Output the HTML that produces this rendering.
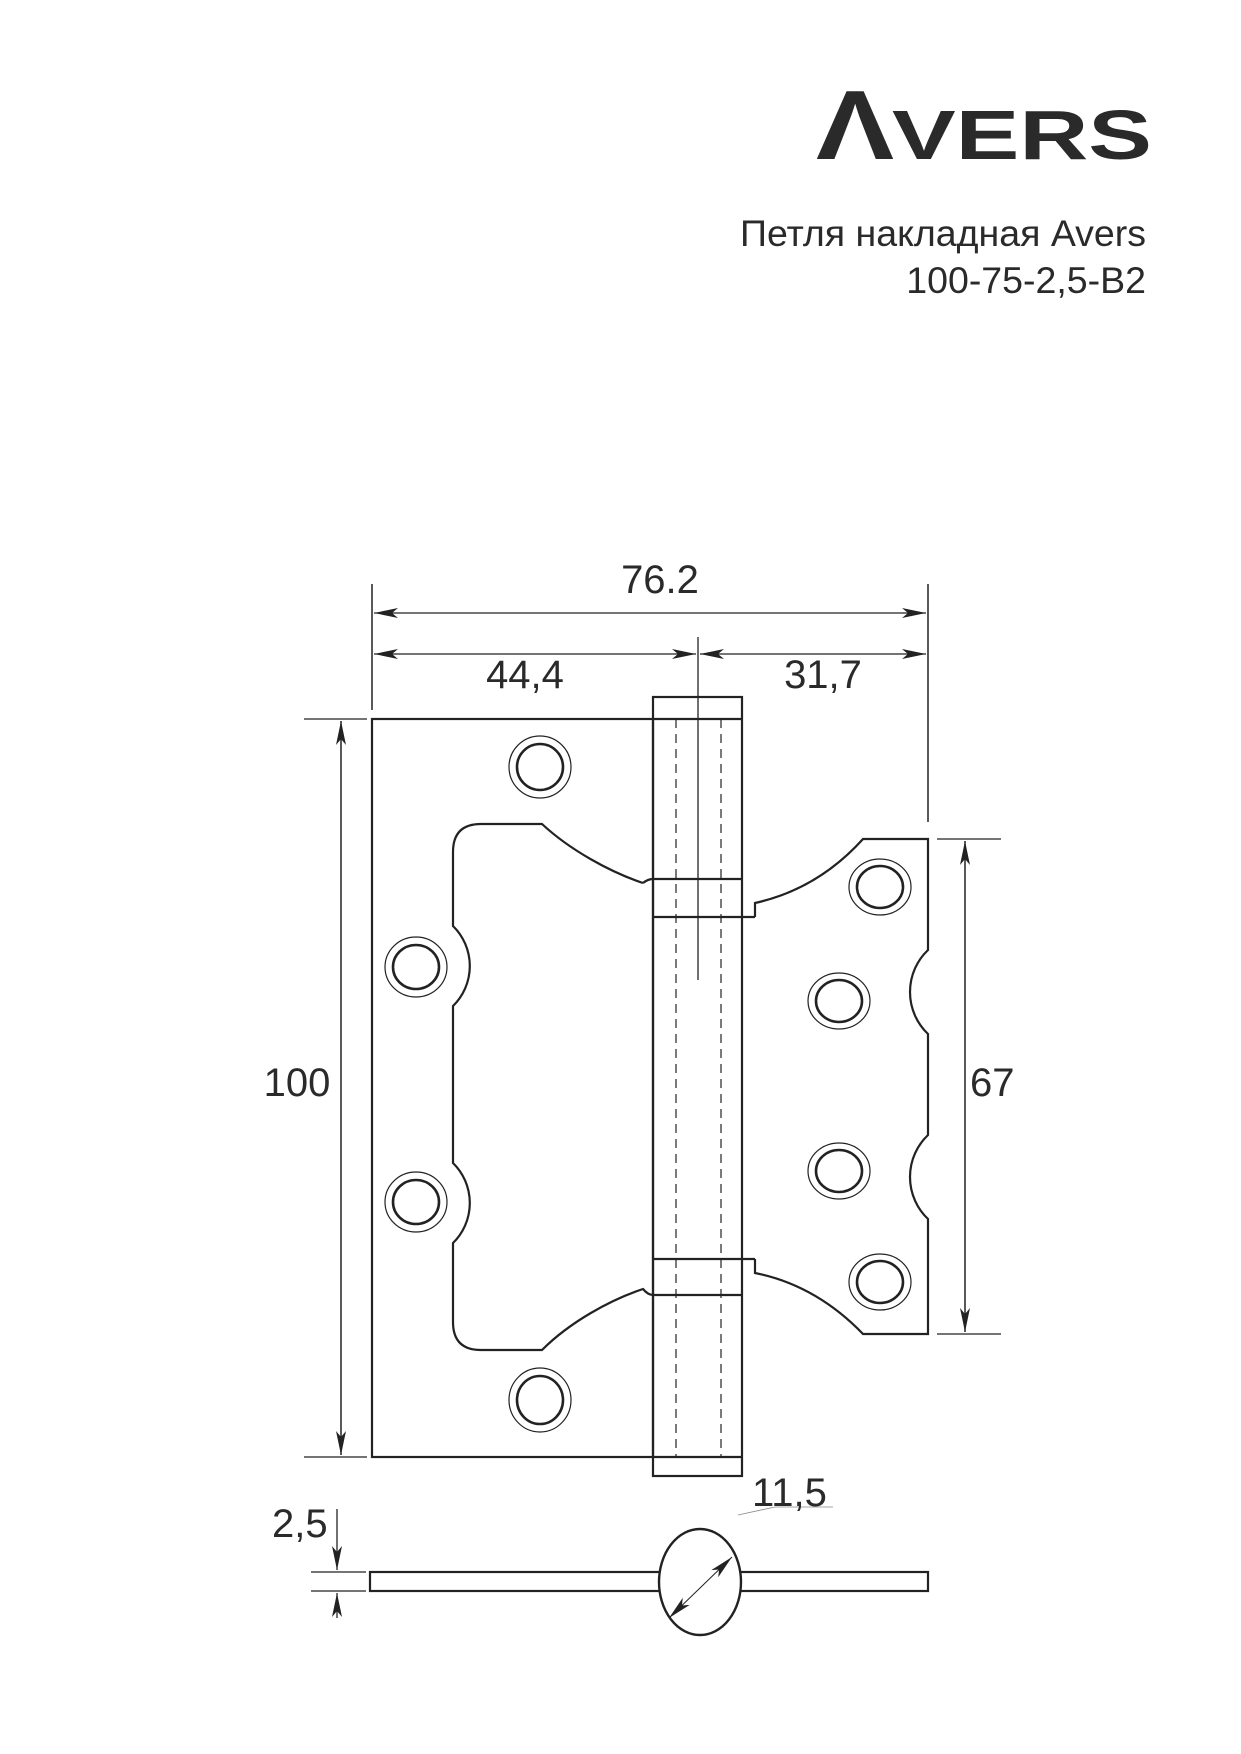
<!DOCTYPE html>
<html><head><meta charset="utf-8"><style>
html,body{margin:0;padding:0;background:#fff;}
svg{display:block;}
text{font-family:"Liberation Sans","DejaVu Sans",sans-serif;fill:#2a2a2a;}
</style></head><body>
<svg width="1241" height="1754" viewBox="0 0 1241 1754" xmlns="http://www.w3.org/2000/svg">
<defs>
<marker id="ar" viewBox="0 0 24 10" refX="24" refY="5" markerWidth="24" markerHeight="10" markerUnits="userSpaceOnUse" orient="auto-start-reverse">
<path d="M0,0 L24,5 L0,10 L6,5 z" fill="#222"/></marker>
</defs>
<!-- logo -->
<text x="816" y="159" font-size="98" font-weight="bold" textLength="78" lengthAdjust="spacingAndGlyphs">Λ</text>
<text x="892" y="159" font-size="70" font-weight="bold" textLength="260" lengthAdjust="spacingAndGlyphs">VERS</text>
<text x="1146" y="246" font-size="37.5" text-anchor="end">Петля накладная Avers</text>
<text x="1146" y="293" font-size="37.5" text-anchor="end">100-75-2,5-B2</text>

<g stroke="#222" fill="none" stroke-width="2">
<line x1="372" y1="584" x2="372" y2="710" stroke-width="1.5"/>
<line x1="928" y1="584" x2="928" y2="822" stroke-width="1.5"/>
<line x1="374" y1="613" x2="926" y2="613" stroke-width="1.3" marker-start="url(#ar)" marker-end="url(#ar)"/>
<line x1="374" y1="654" x2="696" y2="654" stroke-width="1.3" marker-start="url(#ar)" marker-end="url(#ar)"/>
<line x1="700" y1="654" x2="926" y2="654" stroke-width="1.3" marker-start="url(#ar)" marker-end="url(#ar)"/>
<line x1="698" y1="637" x2="698" y2="980" stroke-width="1.3"/>
<line x1="304" y1="719" x2="367" y2="719" stroke-width="1.3"/>
<line x1="304" y1="1457" x2="367" y2="1457" stroke-width="1.3"/>
<line x1="341" y1="721" x2="341" y2="1455" stroke-width="1.5" marker-start="url(#ar)" marker-end="url(#ar)"/>
<line x1="937" y1="839" x2="1001" y2="839" stroke-width="1.3"/>
<line x1="937" y1="1334" x2="1001" y2="1334" stroke-width="1.3"/>
<line x1="965" y1="841" x2="965" y2="1332" stroke-width="1.5" marker-start="url(#ar)" marker-end="url(#ar)"/>

<rect x="372" y="719" width="281" height="738" stroke-width="2.2"/>
<path d="M643,883 C610,872 570,850 542,824 L481,824 Q453,824 453,852 L453,926 A56,56 0 0 1 453,1006 L453,1163 A56,56 0 0 1 453,1243 L453,1322 Q453,1350 481,1350 L542,1350 C570,1322 610,1300 643,1289 Q648,1295 653,1295" stroke-width="2.2"/>
<path d="M643,883 Q648,879 653,879" stroke-width="2.2"/>
<rect x="653" y="697" width="89" height="779" stroke-width="2.2"/>
<line x1="653" y1="719" x2="742" y2="719" stroke-width="2.2"/>
<line x1="653" y1="1457" x2="742" y2="1457" stroke-width="2.2"/>
<line x1="653" y1="879" x2="742" y2="879" stroke-width="2.2"/>
<line x1="653" y1="917" x2="755" y2="917" stroke-width="2.2"/>
<line x1="653" y1="1259" x2="755" y2="1259" stroke-width="2.2"/>
<line x1="653" y1="1295" x2="742" y2="1295" stroke-width="2.2"/>
<line x1="676" y1="719" x2="676" y2="1457" stroke-width="1.2" stroke-dasharray="9,6"/>
<line x1="721" y1="719" x2="721" y2="1457" stroke-width="1.2" stroke-dasharray="9,6"/>
<path d="M755,917 L755,903 C800,893 835,870 863,839 L928,839 L928,950 A58,58 0 0 0 928,1034 L928,1135 A58,58 0 0 0 928,1219 L928,1334 L863,1334 C835,1305 800,1282 755,1273 L755,1259" stroke-width="2.2"/>
<g stroke-width="2.6">
<ellipse cx="540" cy="767" rx="23" ry="23"/><ellipse cx="416" cy="967" rx="23" ry="22"/>
<ellipse cx="416" cy="1202" rx="23" ry="22"/><ellipse cx="540" cy="1400" rx="23" ry="24"/>
<ellipse cx="880" cy="887" rx="23" ry="21"/><ellipse cx="839" cy="1001" rx="23" ry="21"/>
<ellipse cx="839" cy="1171" rx="23" ry="21"/><ellipse cx="880" cy="1282" rx="23" ry="21"/>
</g>
<g stroke-width="1.2">
<ellipse cx="540" cy="767" rx="31" ry="31"/><ellipse cx="416" cy="967" rx="31" ry="30"/>
<ellipse cx="416" cy="1202" rx="31" ry="30"/><ellipse cx="540" cy="1400" rx="31" ry="32"/>
<ellipse cx="880" cy="887" rx="31" ry="28"/><ellipse cx="839" cy="1001" rx="31" ry="28"/>
<ellipse cx="839" cy="1171" rx="31" ry="28"/><ellipse cx="880" cy="1282" rx="31" ry="28"/>
</g>
<rect x="370" y="1572" width="290" height="19" stroke-width="2.2"/>
<rect x="740" y="1572" width="188" height="19" stroke-width="2.2"/>
<ellipse cx="700" cy="1582" rx="41" ry="53" fill="#fff" stroke-width="2.4"/>
<line x1="669" y1="1618" x2="732" y2="1557" stroke-width="1" marker-start="url(#ar)" marker-end="url(#ar)"/>
<line x1="738" y1="1515" x2="775" y2="1507" stroke-width="0.8" stroke="#888"/>
<line x1="775" y1="1507" x2="833" y2="1507" stroke-width="0.8" stroke="#888"/>
<line x1="311" y1="1572" x2="366" y2="1572" stroke-width="1.3"/>
<line x1="311" y1="1591" x2="366" y2="1591" stroke-width="1.3"/>
<line x1="337" y1="1509" x2="337" y2="1570" stroke-width="1.3" marker-end="url(#ar)"/>
<line x1="337" y1="1618" x2="337" y2="1593" stroke-width="1.3" marker-end="url(#ar)"/>
</g>
<text x="660" y="593" font-size="40" text-anchor="middle">76.2</text>
<text x="525" y="688" font-size="40" text-anchor="middle">44,4</text>
<text x="823" y="688" font-size="40" text-anchor="middle">31,7</text>
<text x="297" y="1096" font-size="40" text-anchor="middle">100</text>
<text x="970" y="1096" font-size="40">67</text>
<text x="272" y="1537" font-size="40">2,5</text>
<text x="752" y="1506" font-size="40">11,5</text>
</svg>
</body></html>
